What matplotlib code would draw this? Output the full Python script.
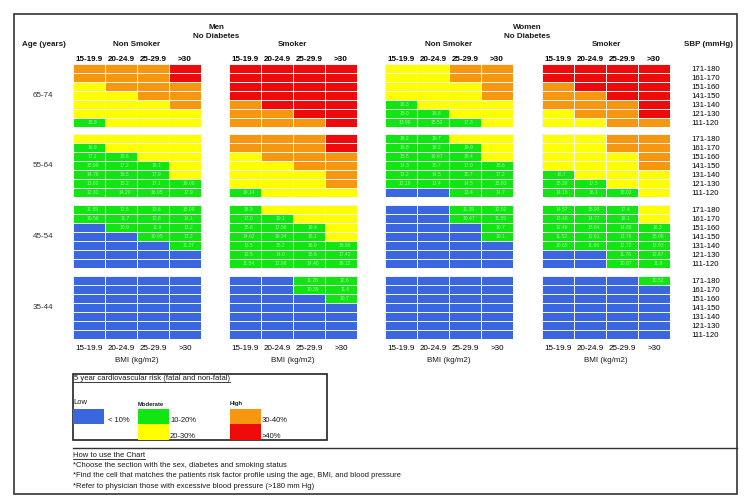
import numpy as np
import matplotlib
matplotlib.use('Agg')
import matplotlib.pyplot as plt
from matplotlib.colors import ListedColormap, BoundaryNorm
from matplotlib.patches import Rectangle

plt.rcParams.update({
    'font.family': ['Liberation Sans', 'DejaVu Sans'],
    'font.size': 5.8,
    'text.color': '#1a1a1a',
})

# ---------------------------------------------------------------------------
# Data
# ---------------------------------------------------------------------------
bmi_labels = ['15-19.9', '20-24.9', '25-29.9', '>30']
sbp_labels = ['171-180', '161-170', '151-160', '141-150',
              '131-140', '121-130', '111-120']
age_labels = ['65-74', '55-64', '45-54', '35-44']

band_codes = ['B', 'G', 'Y', 'O', 'R']
band_colors = ['#3a66e0', '#12e612', '#ffff00', '#f7960f', '#ee0a0a']
band_names = ['< 10%', '10-20%', '20-30%', '30-40%', '>40%']

# risk band per cell (rows = SBP high->low, cols = BMI), one block per age
men_nonsmoker = [
    ['OOOR', 'OOOR', 'YOOO', 'YYOO', 'YYYO', 'YYYY', 'GYYY'],
    ['YYYY', 'GYYY', 'GGYY', 'GGGY', 'GGGY', 'GGGG', 'GGGG'],
    ['GGGG', 'GGGG', 'BGGG', 'BBGG', 'BBBG', 'BBBB', 'BBBB'],
    ['BBBB', 'BBBB', 'BBBB', 'BBBB', 'BBBB', 'BBBB', 'BBBB'],
]
men_smoker = [
    ['RRRR', 'RRRR', 'RRRR', 'RRRR', 'ORRR', 'OORR', 'OOOR'],
    ['OOOR', 'OOOR', 'YOOO', 'YYOO', 'YYYO', 'YYYO', 'GYYY'],
    ['GYYY', 'GGYY', 'GGGY', 'GGGY', 'GGGG', 'GGGG', 'GGGG'],
    ['BBGG', 'BBGG', 'BBBG', 'BBBB', 'BBBB', 'BBBB', 'BBBB'],
]
women_nonsmoker = [
    ['YYOO', 'YYOO', 'YYYO', 'YYYO', 'GYYY', 'GGYY', 'GGGY'],
    ['GGYY', 'GGGY', 'GGGY', 'GGGG', 'GGGG', 'GGGG', 'BBGG'],
    ['BBGG', 'BBGG', 'BBBG', 'BBBG', 'BBBB', 'BBBB', 'BBBB'],
    ['BBBB', 'BBBB', 'BBBB', 'BBBB', 'BBBB', 'BBBB', 'BBBB'],
]
women_smoker = [
    ['RRRR', 'RRRR', 'ORRR', 'OORR', 'OOOR', 'YOOR', 'YYOO'],
    ['YYOO', 'YYOO', 'YYYO', 'YYYO', 'GYYY', 'GGYY', 'GGGY'],
    ['GGGY', 'GGGY', 'GGGG', 'GGGG', 'GGGG', 'BBGG', 'BBGG'],
    ['BBBG', 'BBBB', 'BBBB', 'BBBB', 'BBBB', 'BBBB', 'BBBB'],
]

# faint % values printed in the moderate (green) cells, row by row
men_nonsmoker_pct = [
    ['15.9'],
    ['16.9', '17.1', '18.6', '15.99', '17.2', '19.1', '14.76', '16.5', '17.9',
     '13.82', '15.2', '17.1', '19.06', '12.31', '14.20', '16.05', '17.9'],
    ['11.55', '12.5', '13.6', '15.08', '10.59', '11.7', '12.8', '14.1',
     '10.9', '11.9', '13.2', '10.95', '12.2', '11.27'],
    [],
]
men_smoker_pct = [
    [],
    ['19.14'],
    ['18.3', '17.0', '19.1', '15.8', '17.56', '19.4', '14.62', '16.34', '18.1',
     '13.5', '15.2', '16.9', '18.86', '12.5', '14.0', '15.6', '17.42',
     '11.54', '12.98', '14.46', '16.12'],
    ['11.26', '12.6', '10.39', '11.6', '10.7'],
]
women_nonsmoker_pct = [
    ['16.3', '15.0', '16.8', '13.98', '15.52', '17.3'],
    ['18.2', '19.7', '16.8', '18.2', '19.9', '15.5', '16.97', '18.4',
     '14.3', '15.7', '17.0', '18.6', '13.2', '14.5', '15.7', '17.2',
     '12.19', '13.4', '14.5', '15.93', '13.4', '14.7'],
    ['11.35', '12.52', '10.47', '11.55', '10.7', '10.1'],
    [],
]
women_smoker_pct = [
    [],
    ['16.7', '15.39', '17.5', '14.18', '16.1', '18.02'],
    ['14.57', '15.95', '17.4', '13.48', '14.77', '16.1', '12.46', '13.64',
     '14.88', '16.3', '11.52', '12.61', '13.76', '15.08', '10.65', '11.66',
     '12.72', '13.93', '11.76', '12.87', '10.87', '11.9'],
    ['10.52'],
]

# ---------------------------------------------------------------------------
# Layout (pixels of a 751 x 501 image)
# ---------------------------------------------------------------------------
W, H = 751, 501
panel_x = [73, 229, 385, 542]
panel_y = [64, 134, 205, 276]
PW, PH = 128, 63

cmap = ListedColormap(band_colors)
norm = BoundaryNorm(np.arange(-0.5, len(band_codes)), cmap.N)

fig = plt.figure(figsize=(W / 100, H / 100), dpi=100)
fig.patch.set_facecolor('white')

bg = fig.add_axes([0, 0, 1, 1])
bg.set_xlim(0, W)
bg.set_ylim(H, 0)
bg.axis('off')


def draw_panel(x0, y0, rows, pct, top=False, bottom=False, right=False):
    ax = fig.add_axes([x0 / W, 1 - (y0 + PH) / H, PW / W, PH / H])
    grid = np.array([[band_codes.index(c) for c in r] for r in rows])
    ax.pcolormesh(grid, cmap=cmap, norm=norm, edgecolors='#f2f2f2',
                  linewidth=0.72, snap=True)
    ax.set_xlim(0, 4)
    ax.set_ylim(7, 0)
    for s in ax.spines.values():
        s.set_visible(False)
    labels = iter(pct)
    for i, r in enumerate(rows):
        for j, c in enumerate(r):
            if c == 'G':
                ax.text(j + 0.62, i + 0.55, next(labels, ''), ha='center',
                        va='center', fontsize=3.6, color='#9af59a')
    ax.set_xticks(np.arange(4) + 0.5)
    ax.set_yticks([])
    if top:
        ax.xaxis.tick_top()
        ax.set_xticklabels(bmi_labels, fontweight='bold', fontsize=5.8)
        ax.tick_params(axis='x', length=0, pad=0.8)
    elif bottom:
        ax.set_xticklabels(bmi_labels, fontsize=5.8)
        ax.tick_params(axis='x', length=0, pad=4.6)
    else:
        ax.set_xticks([])
    if right:
        ax.yaxis.tick_right()
        ax.set_yticks(np.arange(7) + 0.5)
        ax.set_yticklabels(sbp_labels, fontsize=5.6)
        ax.tick_params(axis='y', length=0, pad=15.5)
    return ax


groups = [(men_nonsmoker, men_nonsmoker_pct),
          (men_smoker, men_smoker_pct),
          (women_nonsmoker, women_nonsmoker_pct),
          (women_smoker, women_smoker_pct)]

for g, (blocks, pcts) in enumerate(groups):
    for a in range(len(age_labels)):
        draw_panel(panel_x[g], panel_y[a], blocks[a], pcts[a],
                   top=(a == 0), bottom=(a == len(age_labels) - 1),
                   right=(g == 3))
    bg.text(panel_x[g] + PW / 2, 360, 'BMI (kg/m2)', ha='center', va='center')

# age labels
for a, lab in enumerate(age_labels):
    bg.text(43, panel_y[a] + PH / 2, lab, ha='center', va='center', color='#333')

# headers
hdr = dict(ha='center', va='center', fontweight='bold')
bg.text(216, 27, 'Men', **hdr)
bg.text(216, 36, 'No Diabetes', **hdr)
bg.text(527, 27, 'Women', **hdr)
bg.text(527, 36, 'No Diabetes', **hdr)
for g, name in enumerate(['Non Smoker', 'Smoker', 'Non Smoker', 'Smoker']):
    bg.text(panel_x[g] + PW / 2, 44, name, **hdr)
bg.text(43.5, 44, 'Age (years)', **hdr)
bg.text(708, 44, 'SBP (mmHg)', **hdr)

# outer frame
bg.add_patch(Rectangle((14, 14), 723, 480, fill=False, edgecolor='#333',
                       linewidth=1.2))

# legend box
fs = 5.5
bg.add_patch(Rectangle((73, 374), 254, 66, fill=False, edgecolor='#222',
                       linewidth=1.2))
title = bg.text(74, 378, '5 year cardiovascular risk (fatal and non-fatal)',
                ha='left', va='center', fontsize=fs)
bg.text(73, 403, 'Low', ha='left', va='center', fontsize=fs)
bg.text(138, 404, 'Moderate', ha='left', va='center', fontsize=4.2,
        fontweight='bold')
bg.text(230, 404, 'High', ha='left', va='center', fontsize=4.2,
        fontweight='bold')
swatches = [(73, 409, 15), (138, 409, 15), (138, 424, 16), (230, 409, 15),
            (230, 424, 16)]
text_pos = [(108, 420), (170, 421), (170, 437), (262, 421), (262, 437)]
for (sx, sy, sh), col, (tx, ty), name in zip(swatches, band_colors, text_pos,
                                              band_names):
    bg.add_patch(Rectangle((sx, sy), 31, sh, facecolor=col, edgecolor='none'))
    bg.text(tx, ty, name, ha='left', va='center', fontsize=fs)

# how-to section
bg.plot([73, 737], [448, 448], color='#333', linewidth=1.0)
howto = bg.text(73, 455.5, 'How to use the Chart', ha='left', va='center',
                fontsize=fs)
notes = ['*Choose the section with the sex, diabetes and smoking status',
         '*Find the cell that matches the patients risk factor profile using '
         'the age, BMI, and blood pressure',
         '*Refer to physician those with excessive blood pressure (>180 mm Hg)']
for k, line in enumerate(notes):
    bg.text(73, 465.5 + 10.3 * k, line, ha='left', va='center', fontsize=fs)

# underline the two section titles
fig.canvas.draw()
inv = bg.transData.inverted()
for t in (title, howto):
    bb = t.get_window_extent()
    (x0, yb), (x1, _) = inv.transform([[bb.x0, bb.y0], [bb.x1, bb.y1]])
    bg.plot([x0, x1], [yb + 0.3, yb + 0.3], color='#1a1a1a', linewidth=0.6)

fig.savefig('out.png', dpi=100, facecolor='white')
